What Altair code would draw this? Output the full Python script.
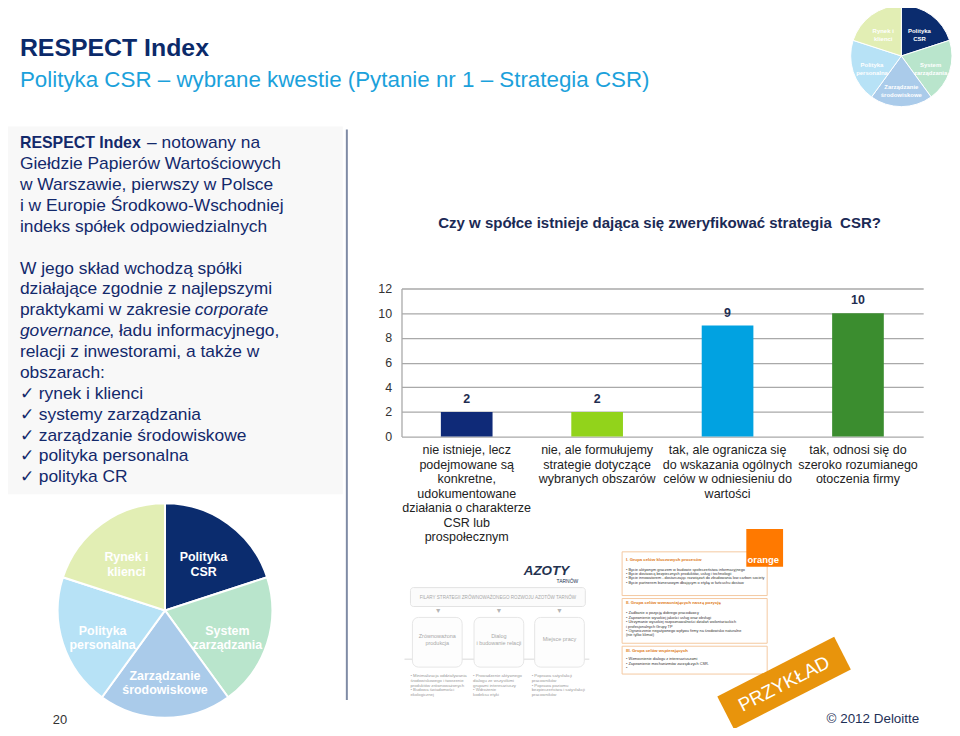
import altair as alt
import pandas as pd

FONT = "Liberation Sans"

# ---------------- data ----------------
categories = [
    "nie istnieje, lecz\npodejmowane są\nkonkretne,\nudokumentowane\ndziałania o charakterze\nCSR lub\nprospołecznym",
    "nie, ale formułujemy\nstrategie dotyczące\nwybranych obszarów",
    "tak, ale ogranicza się\ndo wskazania ogólnych\ncelów w odniesieniu do\nwartości",
    "tak, odnosi się do\nszeroko rozumianego\notoczenia firmy",
]
values = [2, 2, 9, 10]
bar_colors = ["#0F2A78", "#92D31B", "#01A2E1", "#3B8D2F"]
y_ticks = [0, 2, 4, 6, 8, 10, 12]

pie_labels = ["Polityka\nCSR", "System\nzarządzania", "Zarządzanie\nśrodowiskowe",
              "Polityka\npersonalna", "Rynek i\nklienci"]
pie_shares = [1, 1, 1, 1, 1]
pie_colors = ["#0B2C6E", "#B9E5CC", "#AACBEA", "#B7E2F6", "#E2EEB4"]

title_text = "RESPECT Index"
subtitle_text = "Polityka CSR – wybrane kwestie (Pytanie nr 1 – Strategia CSR)"
chart_title = "Czy w spółce istnieje dająca się zweryfikować strategia\u00a0 CSR?"

# ---------------- layout helpers ----------------
X0, Y0 = 404, 288       # page position of plot origin
PW, PH = 525, 149       # plot area


def px(x):
    return x - X0


def py(y):
    return y - Y0


def one():
    return pd.DataFrame({"k": [0]})


NAVY = "#13296B"


def txt(t, x, y, size, color=NAVY, bold=False, italic=False, align="left",
        baseline="alphabetic", angle=None, lh=None, font=FONT):
    kw = dict(text=t, fontSize=size, color=color, align=align, baseline=baseline,
              font=font, lineBreak="\n")
    if bold:
        kw["fontWeight"] = "bold"
    if italic:
        kw["fontStyle"] = "italic"
    if angle is not None:
        kw["angle"] = angle
    if lh is not None:
        kw["lineHeight"] = lh
    return alt.Chart(one()).mark_text(**kw).encode(x=alt.value(px(x)), y=alt.value(py(y)))


def box(x1, y1, x2, y2, fill, stroke=None, sw=1.0, corner=0, fill_opacity=1.0):
    kw = dict(fill=fill, fillOpacity=fill_opacity)
    if stroke:
        kw.update(stroke=stroke, strokeWidth=sw)
    if corner:
        kw["cornerRadius"] = corner
    return alt.Chart(one()).mark_rect(**kw).encode(
        x=alt.value(px(x1)), x2=alt.value(px(x2)), y=alt.value(py(y1)), y2=alt.value(py(y2)))


def vrule(x, y1, y2, color, w):
    return alt.Chart(one()).mark_rule(color=color, strokeWidth=w).encode(
        x=alt.value(px(x)), y=alt.value(py(y1)), y2=alt.value(py(y2)))


def hrule(x1, x2, y, color, w):
    return alt.Chart(one()).mark_rule(color=color, strokeWidth=w).encode(
        x=alt.value(px(x1)), x2=alt.value(px(x2)), y=alt.value(py(y)))


pie_df = pd.DataFrame({"label": pie_labels, "share": pie_shares, "col": pie_colors,
                       "idx": list(range(len(pie_labels)))})


def pie(cx, cy, r, lab_r, fsize, sw):
    arc = alt.Chart(pie_df).mark_arc(radius=r, stroke="white", strokeWidth=sw).encode(
        theta=alt.Theta("share:Q", stack=True),
        order=alt.Order("idx:Q"),
        color=alt.Color("col:N", scale=None),
        x=alt.value(px(cx)), y=alt.value(py(cy)))
    lab = alt.Chart(pie_df).mark_text(radius=lab_r, fontSize=fsize, fontWeight="bold",
                                      lineBreak="\n", align="center", baseline="middle",
                                      color="white", font=FONT).encode(
        theta=alt.Theta("share:Q", stack=True),
        order=alt.Order("idx:Q"),
        text="label:N",
        x=alt.value(px(cx)), y=alt.value(py(cy)))
    return [arc, lab]


layers = []

# left panel background + separator
layers.append(box(0, 125, 345, 495, "#F8F8F8"))
layers.append(vrule(349, 128, 702, "#7F8BA5", 2))

# slide titles
layers.append(txt(title_text, 20, 54, 25, color="#0B2A6A", bold=True))
layers.append(txt(subtitle_text, 20, 85, 22.5, color="#1BA1DB"))

# left text block
FS = 17.5
LH = 21
layers.append(txt("RESPECT Index", 20, 147, 16, bold=True))
layers.append(txt("– notowany na", 148, 147, FS))
layers.append(txt("Giełdzie Papierów Wartościowych\nw Warszawie, pierwszy w Polsce\n"
                  "i w Europie Środkowo-Wschodniej\nindeks spółek odpowiedzialnych",
                  20, 168, FS, lh=LH))
layers.append(txt("W jego skład wchodzą spółki\ndziałające zgodnie z najlepszymi",
                  20, 273, FS, lh=LH))
layers.append(txt("praktykami w zakresie", 20, 315, FS))
layers.append(txt("corporate", 196, 315, FS, italic=True))
layers.append(txt("governance", 20, 336, FS, italic=True))
layers.append(txt(", ładu informacyjnego,", 110, 336, FS))
layers.append(txt("relacji z inwestorami, a także w\nobszarach:\n✓ rynek i klienci\n"
                  "✓ systemy zarządzania\n✓ zarządzanie środowiskowe\n"
                  "✓ polityka personalna\n✓ polityka CR",
                  20, 357, FS, lh=LH))

# chart title
layers.append(txt(chart_title, 441, 227.5, 15.1, color="#1B2A55", bold=True))

# ---------------- bar chart ----------------
bar_df = pd.DataFrame({"cat": categories, "val": values, "col": bar_colors})
xenc = alt.X("cat:N", sort=None, axis=None,
             scale=alt.Scale(paddingInner=0, paddingOuter=0))
yscale = alt.Scale(domain=[0, 12])
yaxis = alt.Axis(values=y_ticks, grid=True, gridColor="#A9A9A9",
                 gridWidth=1.3, domainColor="#A9A9A9", domainWidth=1.3, ticks=False,
                 labelFontSize=12.5, labelColor="#333333", labelPadding=10,
                 labelOverlap=False, labelFlush=False,
                 labelFont=FONT, title=None)
bars = alt.Chart(bar_df).mark_bar(size=52).encode(
    x=xenc,
    y=alt.Y("val:Q", scale=yscale, axis=yaxis),
    color=alt.Color("col:N", scale=None))
val_labels = alt.Chart(bar_df).mark_text(fontSize=12.5, fontWeight="bold", color="#1F2D50",
                                         baseline="middle", dy=-13, font=FONT).encode(
    x=xenc, y=alt.Y("val:Q", scale=yscale, axis=yaxis), text="val:Q")
cat_labels = alt.Chart(bar_df).mark_text(fontSize=12.6, color="#222222", baseline="top",
                                         align="center", lineBreak="\n", lineHeight=14.6,
                                         font=FONT).encode(
    x=xenc, y=alt.value(157), text="cat:N")
layers += [bars, val_labels, cat_labels]

# ---------------- pies ----------------
layers += pie(166, 612, 108, 66, 12.5, 2)
layers += pie(907, 54, 51, 31, 6, 1)

# ---------------- Azoty example ----------------
GR = "#A8A8A8"
layers.append(txt("AZOTY", 527, 576, 13.5, color="#24324F", bold=True, italic=True))
layers.append(txt("TARNÓW", 560, 584, 5, color="#24324F"))
layers.append(box(413, 589, 589, 608, "#FBFBFB", stroke="#E3E3E3", corner=3))
layers.append(txt("FILARY STRATEGII ZRÓWNOWAŻONEGO ROZWOJU AZOTÓW TARNÓW", 501, 599, 4.6,
                  color=GR, align="center", baseline="middle"))
for ax in (441, 502, 563):
    layers.append(txt("▼", ax, 613, 7, color="#B5B5B5", align="center", baseline="middle"))
layers.append(hrule(407, 593, 661, "#E6E6E6", 1.5))
for (bx1, bx2) in ((415, 465), (477, 527), (538, 588)):
    layers.append(box(bx1, 619, bx2, 669, "#FDFDFD", stroke="#E6E6E6", corner=6))
layers.append(txt("Zrównoważona\nprodukcja", 440, 638, 5.5, color=GR, align="center",
                  baseline="middle", lh=6.5))
layers.append(txt("Dialog\ni budowanie relacji", 502, 638, 5.5, color=GR, align="center",
                  baseline="middle", lh=6.5))
layers.append(txt("Miejsce pracy", 563, 641, 5.5, color=GR, align="center", baseline="middle"))
layers.append(txt("•  Minimalizacja oddziaływania\n   środowiskowego i tworzenie\n"
                  "   produktów zrównoważonych\n\n•  Budowa świadomości\n   ekologicznej",
                  413, 679, 4.3, color="#9A9A9A", lh=4.8))
layers.append(txt("•  Prowadzenie aktywnego\n   dialogu ze wszystkimi\n"
                  "   grupami interesariuszy\n\n•  Wdrożenie\n   kodeksu etyki",
                  476, 679, 4.3, color="#9A9A9A", lh=4.8))
layers.append(txt("•  Poprawa satysfakcji\n   pracowników\n\n•  Poprawa poziomu\n"
                  "   bezpieczeństwa i satysfakcji\n   pracowników",
                  535, 679, 4.3, color="#9A9A9A", lh=4.8))

# ---------------- Orange example ----------------
OB = "#F4C9A0"
OR = "#E07B20"
layers.append(box(626, 553, 772, 597, "white", stroke=OB))
layers.append(box(626, 600, 772, 645, "white", stroke=OB))
layers.append(box(626, 648, 772, 676, "white", stroke=OB))
layers.append(txt("I. Grupa celów kluczowych procesów", 630, 562, 4.3, color=OR, bold=True))
layers.append(txt("•   Bycie aktywnym graczem w budowie społeczeństwa informacyjnego\n"
                  "•   Bycie dostawcą bezpiecznych produktów, usług i technologii\n"
                  "•   Bycie innowatorem - dostarczając rozwiązań do zbudowania low carbon society\n"
                  "•   Bycie partnerem biznesowym dbającym o etykę w łańcuchu dostaw",
                  630, 572, 3.9, color="#333333", lh=4.4))
layers.append(txt("II.      Grupa celów wzmacniających naszą pozycję", 630, 606, 4.3, color=OR,
                  bold=True))
layers.append(txt("•        Zadbanie o pozycję dobrego pracodawcy\n"
                  "•        Zapewnienie wysokiej jakości usług oraz obsługi\n"
                  "•        Utrzymanie wysokiej rozpoznawalności działań wolontariackich\n"
                  "          i profesjonalnych Grupy TP\n"
                  "•        Ograniczenie negatywnego wpływu firmy na środowisko naturalne\n"
                  "          (nie tylko klimat)",
                  630, 616, 3.9, color="#333333", lh=4.4))
layers.append(txt("III. Grupa celów wspierających", 630, 654, 4.3, color=OR, bold=True))
layers.append(txt("•        Wzmocnienie dialogu z interesariuszami\n"
                  "•        Zapewnienie mechanizmów zarządczych CSR.\n•",
                  630, 662, 3.9, color="#333333", lh=4.4))
layers.append(box(751, 530, 788, 568, "#FF7900"))
layers.append(txt("orange", 768, 564, 9.5, color="white", bold=True, align="center"))

# PRZYKŁAD stamp
layers.append(alt.Chart(one()).mark_point(
    shape="M-1,-0.28L1,-0.28L1,0.28L-1,0.28Z", size=132 * 132, filled=True,
    color="#E8940C", opacity=1, angle=333, strokeWidth=0).encode(
    x=alt.value(px(789)), y=alt.value(py(685))))
layers.append(txt("PRZYKŁAD", 789, 686, 19, color="white", align="center",
                  baseline="middle", angle=333))

# footer
layers.append(txt("20", 53, 726, 13, color="#333333"))
layers.append(txt("© 2012 Deloitte", 925, 725, 13.5, color="#1E3056", align="right"))

chart = alt.layer(*layers).properties(
    width=PW, height=PH,
    padding={"left": X0 - 8, "top": Y0 - 8, "right": 950 - (X0 - 8) - PW,
             "bottom": 720 - (Y0 - 8) - PH},
    autosize=alt.AutoSizeParams(type="none"),
    background="white",
).configure(font=FONT, view=alt.ViewConfig(stroke=None))

chart.save("out.html", embed_options={"renderer": "svg", "actions": False})
